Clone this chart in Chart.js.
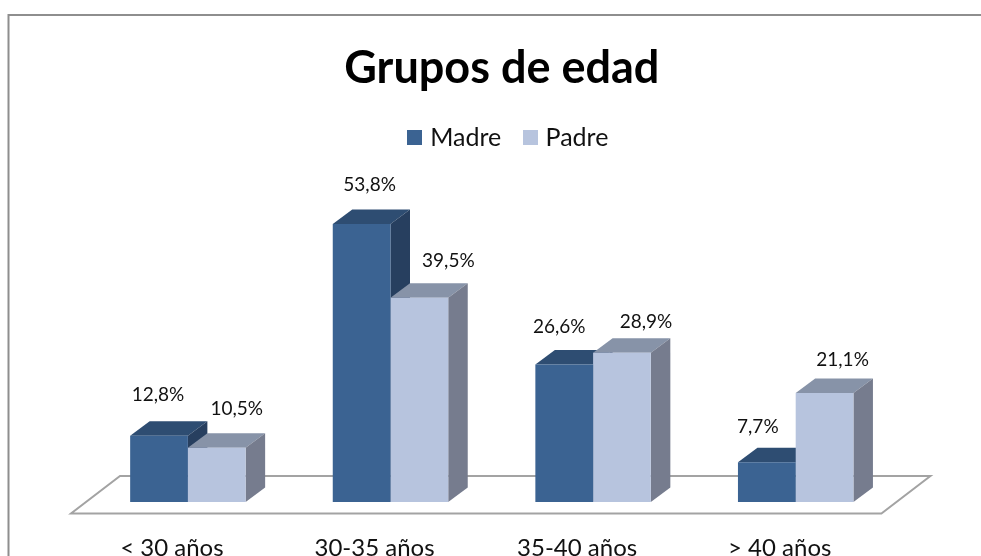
<!DOCTYPE html>
<html><head><meta charset="utf-8">
<style>html,body{margin:0;padding:0;background:#fff;overflow:hidden}canvas{display:block}</style>
<script src="https://cdn.jsdelivr.net/npm/chart.js@4"></script>
</head><body><canvas id="c" width="981" height="556"></canvas>
<script>
const categories = ["< 30 años", "30-35 años", "35-40 años", "> 40 años"];
const madre = [12.8, 53.8, 26.6, 7.7];
const padre = [10.5, 39.5, 28.9, 21.1];
const seriesNames = ["Madre", "Padre"];

const FONT = "Lato, Carlito, 'Open Sans', sans-serif";
const DEPTH = {dx: 19.5, dy: -14.5};
const FRONTS = ["#3B6392", "#B7C4DE"];
const SHADES = [{top: "#2E4D72", side: "#273F5F"}, {top: "#8793A8", side: "#767C8E"}];
// hand-placed label nudges [dx, dy] from the bar's top centre, per series
const LABEL_NUDGE = [
  [[-1,-41],[8,-39],[-5,-38],[-9,-35]],
  [[20,-39],[29,-37],[24,-31],[18,-33]]
];
function fmt(v){ return v.toFixed(1).replace(".", ",") + "%"; }
function swatch(color){
  const s = document.createElement("canvas");
  s.width = s.height = 15;
  const g = s.getContext("2d");
  g.fillStyle = color; g.fillRect(0, 0, 15, 15);
  return s;
}

const frame3d = {
  id: "frame3d",
  afterLayout(chart){
    chart.titleBlock.left += 10; chart.titleBlock.right += 10;
    chart.legend.left += 18.5; chart.legend.right += 18.5;
  },
  beforeDraw(chart){
    const c = chart.ctx, a = chart.chartArea;
    c.save();
    c.strokeStyle = "#8E8E8E"; c.lineWidth = 2;
    c.beginPath(); c.moveTo(8.5,556); c.lineTo(8.5,15); c.lineTo(981,15); c.stroke();
    // floor parallelogram from the plot area
    const f = {x: a.left - 15.6, y: a.bottom + 11.5}, w = a.right - a.left, bx = 49, by = -37.5;
    c.strokeStyle = "#A3A3A3";
    c.beginPath();
    c.moveTo(f.x, f.y); c.lineTo(f.x + w, f.y); c.lineTo(f.x + w + bx, f.y + by);
    c.lineTo(f.x + bx, f.y + by); c.closePath(); c.stroke();
    c.restore();
  },
  beforeDatasetsDraw(chart){
    const c = chart.ctx, {dx, dy} = DEPTH;
    c.save();
    chart.data.datasets.forEach((d, i) => {
      const s = SHADES[i];
      chart.getDatasetMeta(i).data.forEach(b => {
        const l = b.x - b.width/2, r = b.x + b.width/2, t = b.y, bt = b.base;
        c.fillStyle = s.top;
        c.beginPath(); c.moveTo(l,t); c.lineTo(l+dx,t+dy); c.lineTo(r+dx,t+dy); c.lineTo(r,t); c.closePath(); c.fill();
        c.fillStyle = s.side;
        c.beginPath(); c.moveTo(r,t); c.lineTo(r+dx,t+dy); c.lineTo(r+dx,bt+dy); c.lineTo(r,bt); c.closePath(); c.fill();
      });
    });
    c.restore();
  },
  afterDatasetsDraw(chart){
    const c = chart.ctx;
    c.save();
    c.font = "19px " + FONT; c.fillStyle = "#111"; c.textAlign = "center"; c.textBaseline = "middle";
    chart.data.datasets.forEach((d, i) => {
      chart.getDatasetMeta(i).data.forEach((b, j) => {
        const n = LABEL_NUDGE[i][j];
        c.fillText(fmt(d.data[j]), b.x + n[0], b.y + n[1]);
      });
    });
    c.restore();
  }
};

new Chart(document.getElementById("c"), {
  type: "bar",
  data: {
    labels: categories,
    datasets: [
      {label: seriesNames[0], data: madre, backgroundColor: FRONTS[0]},
      {label: seriesNames[1], data: padre, backgroundColor: FRONTS[1]}
    ]
  },
  options: {
    responsive: false, animation: false,
    layout: {padding: {left: 86.6, right: 84, top: 0, bottom: 0}},
    datasets: {bar: {categoryPercentage: 0.57, barPercentage: 1, borderWidth: 0}},
    scales: {
      x: {
        grid: {display: false}, border: {display: false},
        afterFit(s){ s.height = 54; },
        ticks: {color: "#111", font: {family: FONT, size: 24}, padding: 24, labelOffset: -16, maxRotation: 0}
      },
      y: {display: false, min: 0, max: 66.1}
    },
    plugins: {
      tooltip: {enabled: false},
      title: {display: true, text: "Grupos de edad", color: "#000",
        font: {family: FONT, size: 45, weight: "bold"}, padding: {top: 41, bottom: 4}},
      legend: {position: "top", labels: {usePointStyle: true, boxWidth: 5.4, boxHeight: 15, padding: 26.4, color: "#111",
        font: {family: FONT, size: 25},
        generateLabels(chart){
          return Chart.defaults.plugins.legend.labels.generateLabels(chart).map((it, i) => {
            it.pointStyle = swatch(FRONTS[i]);
            return it;
          });
        }}}
    }
  },
  plugins: [frame3d]
});
</script></body></html>
